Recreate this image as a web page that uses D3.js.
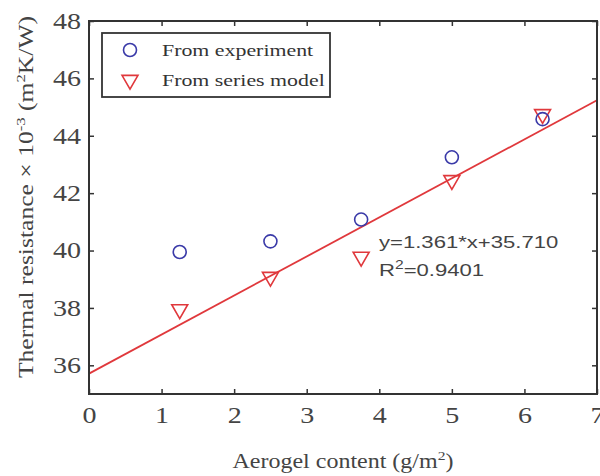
<!DOCTYPE html>
<html>
<head>
<meta charset="utf-8">
<script src="https://cdn.jsdelivr.net/npm/d3@7"></script>
<style>
body { margin: 0; background: #fff; }
svg { display: block; }
</style>
</head>
<body>
<script>
var axis_color = '#333';
var exp_color = '#3a3aa8';
var model_color = '#e0383c';

var aerogel = [1.25, 2.5, 3.75, 5, 6.25];
var experiment = [39.95, 40.32, 41.08, 43.25, 44.58];
var series_model = [37.95, 39.08, 39.78, 42.45, 44.75];
var fit_x = [0, 7];
var fit_slope = 1.361;
var fit_icpt = 35.710;
var x_ticks = [0, 1, 2, 3, 4, 5, 6, 7];
var y_ticks = [36, 38, 40, 42, 44, 46, 48];
var legend_txt = ["From experiment", "From series model"];

var width = 600, height = 476;
var m_left = 89, m_right = 597, m_top = 21, m_bottom = 394;
var serif = "Liberation Serif, Times New Roman, serif";

var svg = d3.select("body").append("svg")
	.attr("width", width)
	.attr("height", height);

var x = d3.scaleLinear().domain([0, 7]).range([m_left, m_right]);
var y = d3.scaleLinear().domain([35, 48]).range([m_bottom, m_top]);

// the source picture is a bit wider than tall, stretch the tick texts the same way
function stretch(sel, k) {
	sel.each(function() {
		var w = this.getComputedTextLength();
		d3.select(this).attr("textLength", w * k).attr("lengthAdjust", "spacingAndGlyphs");
	});
}

// fit line
var line = d3.line()
	.x(function(d) { return x(d); })
	.y(function(d) { return y(fit_slope * d + fit_icpt); });

svg.append("path")
	.datum(fit_x)
	.attr("d", line)
	.attr("fill", "none")
	.attr("stroke", model_color)
	.attr("stroke-width", 1.8);

// axes, ticks inward
function tick_axis(axis, tr) {
	var g = svg.append("g").attr("transform", tr).call(axis);
	g.select(".domain").remove();
	g.selectAll("line").attr("stroke", axis_color).attr("stroke-width", 1.5);
	g.selectAll("text")
		.attr("font-family", serif)
		.attr("font-size", 23)
		.attr("fill", "#444");
	stretch(g.selectAll("text"), 1.22);
	return g;
}

tick_axis(d3.axisBottom(x).tickValues(x_ticks).tickSize(-5).tickPadding(13).tickFormat(d3.format("d")), "translate(0," + m_bottom + ")");
tick_axis(d3.axisTop(x).tickValues(x_ticks).tickSize(-5).tickFormat(""), "translate(0," + m_top + ")");
tick_axis(d3.axisLeft(y).tickValues(y_ticks).tickSize(-5).tickPadding(8).tickFormat(d3.format("d")), "translate(" + m_left + ",0)");
tick_axis(d3.axisRight(y).tickValues(y_ticks).tickSize(-5).tickFormat(""), "translate(" + m_right + ",0)");

// box
svg.append("rect")
	.attr("x", m_left).attr("y", m_top)
	.attr("width", m_right - m_left).attr("height", m_bottom - m_top)
	.attr("fill", "none")
	.attr("stroke", axis_color)
	.attr("stroke-width", 2);

// markers
var tri = d3.symbol().type(d3.symbolTriangle).size(110);

svg.selectAll(".model")
	.data(aerogel)
	.enter()
	.append("path")
	.attr("class", "model")
	.attr("d", tri)
	.attr("transform", function(d, i) { return "translate(" + x(d) + "," + y(series_model[i]) + ") rotate(180)"; })
	.attr("fill", "none")
	.attr("stroke", model_color)
	.attr("stroke-width", 1.6);

svg.selectAll(".exp")
	.data(aerogel)
	.enter()
	.append("circle")
	.attr("class", "exp")
	.attr("cx", function(d) { return x(d); })
	.attr("cy", function(d, i) { return y(experiment[i]); })
	.attr("r", 6.5)
	.attr("fill", "none")
	.attr("stroke", exp_color)
	.attr("stroke-width", 1.6);

// legend
svg.append("rect")
	.attr("x", 102).attr("y", 33)
	.attr("width", 228).attr("height", 64)
	.attr("fill", "#fff")
	.attr("stroke", axis_color)
	.attr("stroke-width", 1.8);

svg.append("circle")
	.attr("cx", 130).attr("cy", 50).attr("r", 6.5)
	.attr("fill", "none").attr("stroke", exp_color).attr("stroke-width", 1.6);

svg.append("path")
	.attr("d", tri)
	.attr("transform", "translate(130,80) rotate(180)")
	.attr("fill", "none").attr("stroke", model_color).attr("stroke-width", 1.6);

svg.selectAll(".leg_text")
	.data(legend_txt)
	.enter()
	.append("text")
	.attr("class", "leg_text")
	.attr("transform", function(d, i) { return "translate(162," + (56 + i * 30) + ") scale(1.25,1)"; })
	.attr("font-family", serif)
	.attr("font-size", 17.5)
	.attr("fill", "#333")
	.text(function(d) { return d; });

// fit annotation
var ann = svg.append("g")
	.attr("transform", "translate(379,0) scale(1.3,1)")
	.attr("font-family", "Liberation Sans, Arial, sans-serif")
	.attr("font-size", 17)
	.attr("fill", "#444");
ann.append("text").attr("x", 0).attr("y", 248).text("y=1.361*x+35.710");
var r2 = ann.append("text").attr("x", 0).attr("y", 276);
r2.append("tspan").text("R");
r2.append("tspan").attr("dy", -7).attr("font-size", 12).text("2");
r2.append("tspan").attr("dy", 7).text("=0.9401");

// axis titles
var xt = svg.append("text")
	.attr("transform", "translate(343,468) scale(1.2,1)")
	.attr("text-anchor", "middle")
	.attr("font-family", serif)
	.attr("font-size", 20)
	.attr("fill", "#444");
xt.append("tspan").text("Aerogel content (g/m");
xt.append("tspan").attr("dy", -8).attr("font-size", 13).text("2");
xt.append("tspan").attr("dy", 8).text(")");

var yt = svg.append("text")
	.attr("transform", "translate(33,197) rotate(-90) scale(1.28,1)")
	.attr("text-anchor", "middle")
	.attr("font-family", serif)
	.attr("font-size", 20)
	.attr("fill", "#444");
yt.append("tspan").text("Thermal resistance \u00d7 10");
yt.append("tspan").attr("dy", -8).attr("font-size", 13).text("-3");
yt.append("tspan").attr("dy", 8).text(" (m");
yt.append("tspan").attr("dy", -8).attr("font-size", 13).text("2");
yt.append("tspan").attr("dy", 8).text("K/W)");
</script>
</body>
</html>
